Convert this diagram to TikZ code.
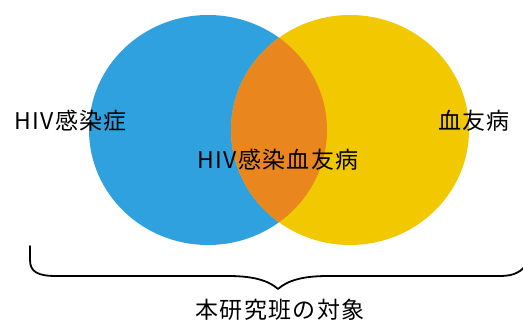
\documentclass[tikz,border=0pt]{standalone}
\usepackage{fontspec}
\setmainfont{Noto Sans CJK JP}[LetterSpace=6]
\definecolor{vblue}{RGB}{47,161,222}
\definecolor{vyellow}{RGB}{242,200,0}
\definecolor{vorange}{RGB}{233,134,30}
\begin{document}
\begin{tikzpicture}[x=1pt,y=-1pt,
  lbl/.style={inner sep=0pt,font=\fontsize{23}{23}\selectfont,text=black},
  brace/.style={draw=black,line width=1.8pt,line cap=round,line join=round}]
\useasboundingbox (0,0) rectangle (523,323);
\fill[vblue] (208,130) ellipse [x radius=119, y radius=115];
\fill[vyellow] (350,130) ellipse [x radius=119, y radius=115];
\begin{scope}
  \clip (208,130) ellipse [x radius=119, y radius=115];
  \fill[vorange] (350,130) ellipse [x radius=119, y radius=115];
\end{scope}
\node[lbl,anchor=west] (hiv) at (14,121) {HIV感染症};
\node[lbl,anchor=east] (hemo) at (510,121) {血友病};
\node[lbl] (both) at (278,160) {HIV感染血友病};
\coordinate (tip) at (278,289);
\draw[brace] (30,246) -- (30,260) .. controls (30,272) and (38,276) .. (56,276)
  -- (228,276) .. controls (252,276) and (268,280) .. (tip)
  .. controls (288,280) and (304,276) .. (328,276)
  -- (500,276) .. controls (514,276) and (522,272) .. (528,262);
\node[lbl] (target) at (280,310) {本研究班の対象};
\end{tikzpicture}
\end{document}
